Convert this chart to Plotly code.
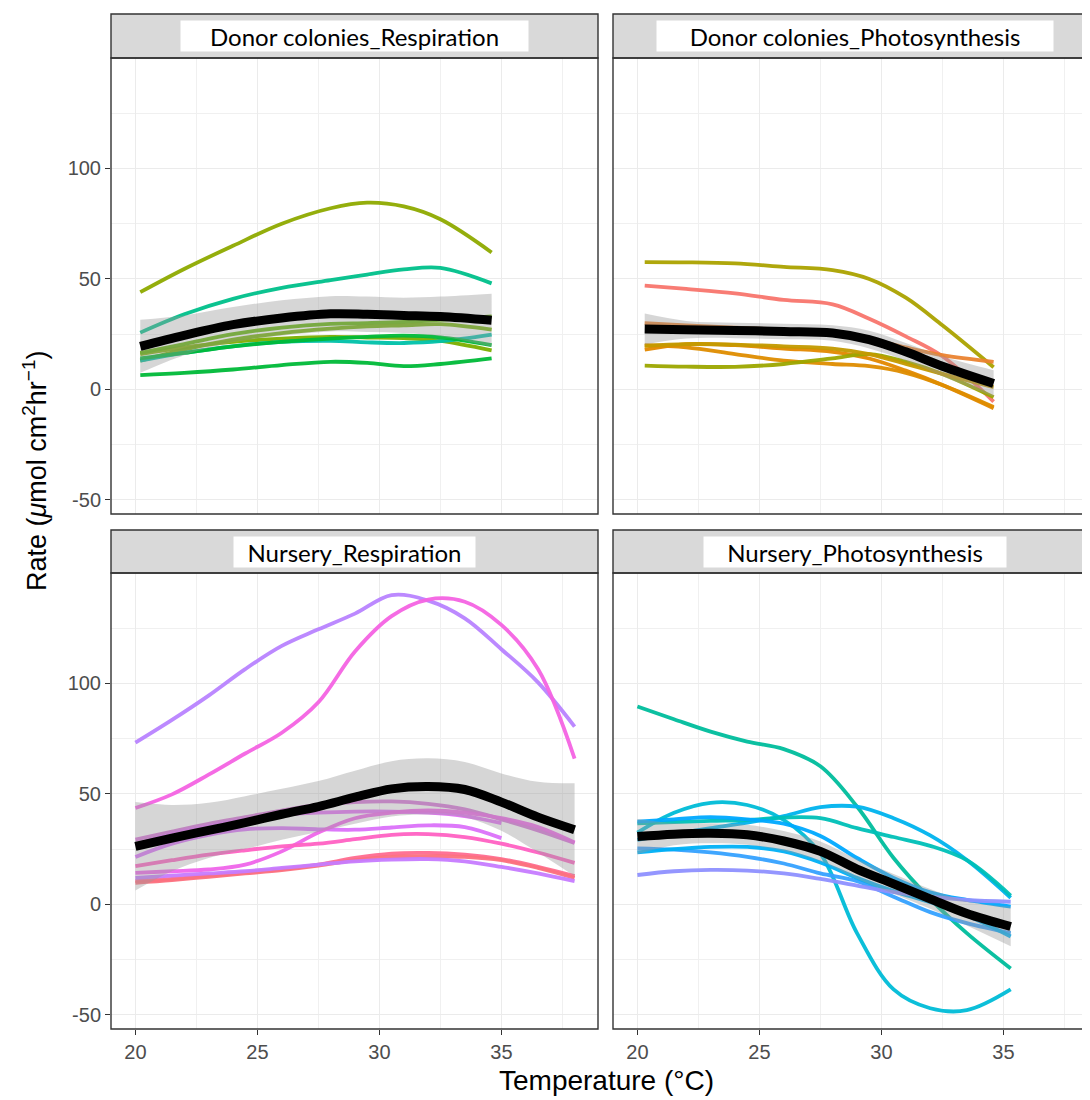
import plotly.graph_objects as go

# ---------------- data ----------------
# Donor colonies - Respiration
DR_T = [20.2, 22, 24, 26, 28, 29.5, 31, 32.5, 34.6]
DR_RATES = [
    [44, 54.5, 65, 75, 82, 84.5, 82.8, 77, 62],
    [25.7, 34, 41, 46, 49.5, 52, 54.3, 55, 48],
    [16, 19, 21.5, 23, 23.8, 23.5, 23.2, 22, 17.7],
    [16.5, 20.5, 25, 28, 29.7, 30, 30.5, 31.5, 33],
    [13, 18, 22.5, 25.5, 27.5, 28.5, 29, 29.5, 27],
    [13, 16.5, 19.5, 21.5, 22, 21.3, 21, 21.8, 24.8],
    [14, 16.5, 19.5, 21.5, 23, 23.8, 24.3, 23.5, 20],
    [6.5, 7.5, 9, 11, 12.5, 12, 10.5, 11.5, 14],
]
DR_MEAN = [19.5, 24.5, 29.3, 32.3, 34.2, 34, 33.5, 33, 31.3]
DR_LO = [7.5, 15.5, 21.3, 24.3, 26.2, 26, 25.5, 24, 19.3]
DR_HI = [31.5, 33.5, 37.3, 40.3, 42.2, 42, 41.5, 42, 43.3]

# Donor colonies - Photosynthesis
DP_T = [20.3, 22, 24, 26, 28, 29.5, 31, 32.5, 34.6]
DP_RATES = [
    [57.6, 57.5, 57, 55.5, 54, 50, 41.5, 29, 10],
    [47, 45.5, 43.5, 40.5, 38.5, 32, 24, 15, -5.5],
    [18, 20.5, 20, 18.5, 17, 14, 8.5, 2, -8.5],
    [30, 29, 28, 27, 26, 23, 19, 15.5, 12.5],
    [20, 19, 16, 13, 11.5, 10.5, 7.5, 2, -8],
    [10.8, 10.3, 10.2, 11.5, 14, 16, 12.5, 7, -3.5],
    [19.7, 20.5, 20.3, 19.5, 18.5, 16, 11.5, 7, 1],
]
DP_MEAN = [27.3, 27, 26.7, 26.2, 25.5, 22.5, 17, 10.5, 2.7]
DP_LO = [20.3, 23, 23.2, 22.7, 22, 18.5, 13, 6, -3.3]
DP_HI = [34.3, 31, 30.2, 29.7, 29, 26.5, 21, 15, 8.7]

# Nursery - Respiration
NR_T = [20, 21.5, 23, 24.5, 26, 27.5, 29, 30.5, 32, 33.5, 35, 36.5, 38]
NR_RATES = [
    [73.2, 83.5, 94.5, 106.5, 117, 124.5, 131.6, 140, 137.5, 129.5, 115.5, 100.5, 80.5],
    [43.6, 49.8, 58.7, 68.3, 77.7, 91.5, 114.5, 130.5, 138, 137, 126.5, 106.5, 66],
    [21.5, 27.5, 31.5, 34, 34.5, 34, 33.8, 34.8, 35.8, 35, 30, None, None],
    [29.3, 33, 36.5, 39.5, 42.5, 45, 46.3, 46.6, 45.5, 43, 38.5, 33.5, 27.8],
    [27, 32, 35.5, 38.5, 40.5, 41.5, 42, 42, 41.5, 40, 36.8, None, None],
    [14.3, 15, 15.8, 18, 24, 32.5, 39, 41.5, 42.5, 41.5, 39, 35, 28],
    [17.3, 20, 22.5, 24.5, 26.3, 27.5, 29.5, 31.5, 31.8, 30.5, 27.5, 23.5, 18.8],
    [10.5, 11.5, 13, 14.5, 16, 18, 21, 23, 23.3, 22.5, 20.5, 17, 12.8],
    [9.8, 11, 12.5, 14, 15.5, 17.5, 20, 21.5, 21.8, 21.5, 20, 16.5, 12],
    [12, 13, 14, 15, 16.5, 18, 19.5, 20.3, 20.5, 19.5, 17, 14, 10.5],
]
NR_MEAN = [26.3, 30, 33.5, 37, 40.8, 44.3, 48.5, 52.3, 53.4, 52, 46.3, 39.5, 33.8]
NR_LO = [6.3, 15, 21, 25, 29.3, 32.8, 36.5, 39.8, 40.7, 39.5, 33.3, 23.5, 12.8]
NR_HI = [46.3, 45, 46, 49, 52.3, 55.8, 60.5, 64.8, 66.1, 64.5, 59.3, 55.5, 54.8]

# Nursery - Photosynthesis
NP_T = [20, 21.5, 23, 24.5, 26, 27.5, 29, 30.5, 32, 33.5, 35.3]
NP_RATES = [
    [89.6, 83.8, 78.2, 73.7, 70.3, 62.5, 44.3, 21, 2.5, -13, -29],
    [32.5, 41.5, 46, 45, 38.2, 23, -13, -38.5, -47, -47.9, -38.5],
    [29.2, 32, 34.5, 37, 40, 44, 44.2, 39, 31.2, 20.1, 3],
    [36.7, 37.2, 37.8, 38.2, 39.3, 39, 34.5, 30.5, 26.5, 20, 4],
    [37.5, 38.5, 39.5, 38.5, 36.5, 31, 21, 12, 5.5, 2, -1],
    [25.4, 24.8, 23.5, 21.5, 18.5, 14, 10.5, 3.5, -3.5, -8.5, -13],
    [23.5, 25, 26, 26, 24, 19, 12, 6, 1, -5, -14.5],
    [13.3, 15, 15.6, 15.3, 14, 11.5, 8.5, 5.5, 3.5, 2, 1.2],
]
NP_MEAN = [30.7, 31.8, 32.2, 31.5, 28.7, 24, 16, 9.3, 2.5, -4.1, -10]
NP_LO = [22.7, 26.8, 27.7, 27, 24.2, 19.5, 11.5, 4.8, -2, -9.6, -19]
NP_HI = [38.7, 36.8, 36.7, 36, 33.2, 28.5, 20.5, 13.8, 7, 1.4, -1]

PANEL_TITLES = ["Donor colonies_Respiration", "Donor colonies_Photosynthesis",
                "Nursery_Respiration", "Nursery_Photosynthesis"]
X_TICKS = [20, 25, 30, 35]
X_TICK_LABELS = ["20", "25", "30", "35"]
Y_TICKS = [-50, 0, 50, 100]
Y_TICK_LABELS = ["-50", "0", "50", "100"]

# ---------------- styles ----------------
DR_COLORS = ["#8FAA00", "#00C08B", "#7CAE00", "#5DB300", "#6FB000", "#00C1A9", "#00BA38", "#00BA38"]
DP_COLORS = ["#ABA300", "#F8766D", "#E38900", "#EA8331", "#DF8D00", "#9DA700", "#C49A00"]
NR_COLORS = ["#B983FF", "#F564E3", "#DC71FA", "#D874D9", "#E36EF6", "#F066EA",
             "#FF61C3", "#FF6C91", "#FC717F", "#C77CFF"]
NP_COLORS = ["#00BD9D", "#00BCD8", "#00B4EF", "#00C0B8", "#00A9FF", "#35A2FF", "#00B0F6", "#8F91FF"]

W, H = 1090, 1100
OFF = 8  # page body margin offset
FONT = "Liberation Sans, Arial, sans-serif"
TICK_COL = "#4D4D4D"
BORDER = "#333333"

LEFT_X = (111 - OFF, 598 - OFF)
RIGHT_X = (613 - OFF, 1100 - OFF)
TOP_Y = (58 - OFF, 514 - OFF)
BOT_Y = (573 - OFF, 1029 - OFF)
TOP_STRIP = (14 - OFF, 58 - OFF)
BOT_STRIP = (530 - OFF, 573 - OFF)
UNITS_PER_PX = (38.96 - 19.0) / (LEFT_X[1] - LEFT_X[0])

fig = go.Figure()

panels = [
    (DR_T, DR_RATES, DR_COLORS, DR_MEAN, DR_LO, DR_HI, "x", "y"),
    (DP_T, DP_RATES, DP_COLORS, DP_MEAN, DP_LO, DP_HI, "x2", "y2"),
    (NR_T, NR_RATES, NR_COLORS, NR_MEAN, NR_LO, NR_HI, "x3", "y3"),
    (NP_T, NP_RATES, NP_COLORS, NP_MEAN, NP_LO, NP_HI, "x4", "y4"),
]

for T, rates, colors, mean, lo, hi, xa, ya in panels:
    for r, c in zip(rates, colors):
        fig.add_trace(go.Scatter(x=T, y=r, mode="lines", xaxis=xa, yaxis=ya,
                                 line=dict(color=c, width=3.8, shape="spline", smoothing=1.0),
                                 opacity=0.95, showlegend=False, hoverinfo="skip"))
    fig.add_trace(go.Scatter(x=T, y=hi, mode="lines", xaxis=xa, yaxis=ya,
                             line=dict(width=0, shape="spline"), showlegend=False, hoverinfo="skip"))
    fig.add_trace(go.Scatter(x=T, y=lo, mode="lines", xaxis=xa, yaxis=ya, fill="tonexty",
                             fillcolor="rgba(153,153,153,0.4)",
                             line=dict(width=0, shape="spline"), showlegend=False, hoverinfo="skip"))
    fig.add_trace(go.Scatter(x=T, y=mean, mode="lines", xaxis=xa, yaxis=ya,
                             line=dict(color="black", width=9, shape="spline"),
                             showlegend=False, hoverinfo="skip"))


def xdom(a):
    return [a[0] / W, min(a[1] / W, 1.0)]


def ydom(a):
    return [1 - a[1] / H, 1 - a[0] / H]


grid = dict(showgrid=True, gridcolor="#EBEBEB", gridwidth=1.2, zeroline=False, showline=False)
minor_x = dict(tickvals=[22.5, 27.5, 32.5, 37.5], showgrid=True, gridcolor="#F0F0F0", gridwidth=0.8)
minor_y = dict(tickvals=[-25, 25, 75, 125], showgrid=True, gridcolor="#F0F0F0", gridwidth=0.8)
yrange = [-56.4, 150]
xr_left = [19.0, 38.96]
xr_right = [19.0, 19.0 + (W - RIGHT_X[0]) * UNITS_PER_PX]

def xaxis(dom, rng, anchor, labels):
    d = dict(domain=dom, range=rng, anchor=anchor, tickvals=X_TICKS, ticktext=X_TICK_LABELS,
             minor=minor_x, **grid)
    if labels:
        d.update(ticks="outside", ticklen=5, tickwidth=1.2, tickcolor=BORDER,
                 showticklabels=True, tickfont=dict(family=FONT, size=20, color=TICK_COL))
    else:
        d.update(ticks="", showticklabels=False)
    return d

def yaxis(dom, anchor, labels):
    d = dict(domain=dom, range=yrange, anchor=anchor, tickvals=Y_TICKS, ticktext=Y_TICK_LABELS,
             minor=minor_y, **grid)
    if labels:
        d.update(ticks="outside", ticklen=5, tickwidth=1.2, tickcolor=BORDER,
                 showticklabels=True, tickfont=dict(family=FONT, size=20, color=TICK_COL))
    else:
        d.update(ticks="", showticklabels=False)
    return d

fig.update_layout(
    width=W, height=H, margin=dict(l=0, r=0, t=0, b=0),
    paper_bgcolor="white", plot_bgcolor="white", showlegend=False,
    xaxis=xaxis(xdom(LEFT_X), xr_left, "y", False),
    yaxis=yaxis(ydom(TOP_Y), "x", True),
    xaxis2=xaxis(xdom(RIGHT_X), xr_right, "y2", False),
    yaxis2=yaxis(ydom(TOP_Y), "x2", False),
    xaxis3=xaxis(xdom(LEFT_X), xr_left, "y3", True),
    yaxis3=yaxis(ydom(BOT_Y), "x3", True),
    xaxis4=xaxis(xdom(RIGHT_X), xr_right, "y4", True),
    yaxis4=yaxis(ydom(BOT_Y), "x4", False),
)

shapes = []
annotations = []
strip_boxes = [(LEFT_X, TOP_STRIP, 347), (RIGHT_X, TOP_STRIP, 396),
               (LEFT_X, BOT_STRIP, 241), (RIGHT_X, BOT_STRIP, 302)]
plot_boxes = [(LEFT_X, TOP_Y), (RIGHT_X, TOP_Y), (LEFT_X, BOT_Y), (RIGHT_X, BOT_Y)]
strip_centers = [354.5 - OFF, 855.5 - OFF, 354.5 - OFF, 855.5 - OFF]

for (xs, ys, bw), (pxs, pys), title, cx in zip(strip_boxes, plot_boxes, PANEL_TITLES, strip_centers):
    shapes.append(dict(type="rect", xref="paper", yref="paper",
                       x0=xs[0] / W, x1=xs[1] / W, y0=1 - ys[1] / H, y1=1 - ys[0] / H,
                       fillcolor="#D9D9D9", line=dict(color=BORDER, width=1.4), layer="above"))
    shapes.append(dict(type="rect", xref="paper", yref="paper",
                       x0=pxs[0] / W, x1=pxs[1] / W, y0=1 - pys[1] / H, y1=1 - pys[0] / H,
                       line=dict(color=BORDER, width=1.4), layer="above"))
    annotations.append(dict(text=title, xref="paper", yref="paper",
                            x=cx / W, y=1 - (ys[0] + ys[1]) / 2 / H,
                            xanchor="center", yanchor="middle", showarrow=False,
                            bgcolor="white", width=bw, height=30, borderpad=0,
                            font=dict(family="Lato, Open Sans, sans-serif", size=24, color="black")))

annotations.append(dict(text="Temperature (°C)", xref="paper", yref="paper",
                        x=(606 - OFF) / W, y=1 - (1080 - OFF) / H, xanchor="center", yanchor="middle",
                        showarrow=False, font=dict(family=FONT, size=28, color="black")))
annotations.append(dict(text="Rate (<i>μ</i>mol cm<sup>2</sup>hr<sup>−1</sup>)", xref="paper", yref="paper",
                        x=(35 - OFF) / W, y=1 - (471 - OFF) / H, xanchor="center", yanchor="middle",
                        textangle=-90, showarrow=False, font=dict(family=FONT, size=27, color="black")))

fig.update_layout(shapes=shapes, annotations=annotations)
fig.write_html("out.html")
